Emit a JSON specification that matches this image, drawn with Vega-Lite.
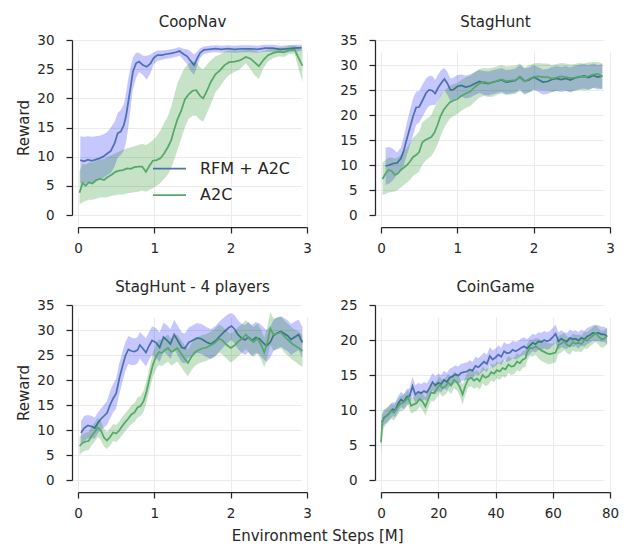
{
  "$schema": "https://vega.github.io/schema/vega-lite/v6.json",
  "background": "white",
  "padding": {"left": 16, "top": 15, "right": 5, "bottom": 2},
  "title": {"text": "Environment Steps [M]", "orient": "bottom", "anchor": "middle", "offset": 9, "fontSize": 15, "fontWeight": "normal", "color": "#262626"},
  "config": {
    "font": "DejaVu Sans",
    "view": {"stroke": null},
    "axis": {"grid": true, "gridColor": "#ebebeb", "gridWidth": 1, "domainColor": "#262626", "domainWidth": 1.25, "tickColor": "#262626", "tickWidth": 1.25, "tickSize": 6, "labelFontSize": 13.5, "labelColor": "#262626", "labelPadding": 8, "labelFlush": false, "labelOverlap": false, "titleFontSize": 15, "titleFontWeight": "normal", "titleColor": "#262626", "titlePadding": 5},
    "axisX": {"offset": 12, "labelAngle": 0},
    "axisY": {"offset": 6, "labelPadding": 12},
    "title": {"fontSize": 15, "fontWeight": "normal", "color": "#262626", "offset": 3}
  },
  "resolve": {"legend": {"color": "independent"}, "scale": {"color": "independent"}},
  "columns": 2,
  "spacing": {"row": 25, "column": 27},
  "datasets": {
    "coopnav": [
      {"method": "RFM + A2C", "step": 0.03, "reward": 9.4, "lo": 5.5, "hi": 13.5},
      {"method": "RFM + A2C", "step": 0.08, "reward": 9.2, "lo": 5.3, "hi": 13.4},
      {"method": "RFM + A2C", "step": 0.13, "reward": 9.5, "lo": 5.6, "hi": 13.5},
      {"method": "RFM + A2C", "step": 0.18, "reward": 9.3, "lo": 5.5, "hi": 13.4},
      {"method": "RFM + A2C", "step": 0.23, "reward": 9.5, "lo": 5.8, "hi": 13.5},
      {"method": "RFM + A2C", "step": 0.28, "reward": 9.7, "lo": 6.0, "hi": 13.6},
      {"method": "RFM + A2C", "step": 0.33, "reward": 10.0, "lo": 6.3, "hi": 13.8},
      {"method": "RFM + A2C", "step": 0.38, "reward": 10.5, "lo": 6.8, "hi": 14.2},
      {"method": "RFM + A2C", "step": 0.43, "reward": 11.0, "lo": 7.2, "hi": 15.0},
      {"method": "RFM + A2C", "step": 0.48, "reward": 12.3, "lo": 8.3, "hi": 16.0},
      {"method": "RFM + A2C", "step": 0.52, "reward": 14.0, "lo": 9.8, "hi": 17.5},
      {"method": "RFM + A2C", "step": 0.56, "reward": 14.3, "lo": 10.3, "hi": 18.0},
      {"method": "RFM + A2C", "step": 0.60, "reward": 15.4, "lo": 11.0, "hi": 19.0},
      {"method": "RFM + A2C", "step": 0.63, "reward": 17.0, "lo": 12.5, "hi": 21.0},
      {"method": "RFM + A2C", "step": 0.66, "reward": 19.5, "lo": 15.0, "hi": 23.5},
      {"method": "RFM + A2C", "step": 0.69, "reward": 22.0, "lo": 18.5, "hi": 25.5},
      {"method": "RFM + A2C", "step": 0.72, "reward": 24.6, "lo": 21.5, "hi": 27.0},
      {"method": "RFM + A2C", "step": 0.76, "reward": 26.0, "lo": 23.5, "hi": 27.8},
      {"method": "RFM + A2C", "step": 0.80, "reward": 26.3, "lo": 24.5, "hi": 27.8},
      {"method": "RFM + A2C", "step": 0.85, "reward": 25.7, "lo": 24.0, "hi": 27.3},
      {"method": "RFM + A2C", "step": 0.90, "reward": 25.4, "lo": 23.2, "hi": 27.3},
      {"method": "RFM + A2C", "step": 0.95, "reward": 26.0, "lo": 24.3, "hi": 27.5},
      {"method": "RFM + A2C", "step": 0.99, "reward": 26.9, "lo": 25.8, "hi": 27.9},
      {"method": "RFM + A2C", "step": 1.04, "reward": 27.4, "lo": 26.4, "hi": 28.2},
      {"method": "RFM + A2C", "step": 1.10, "reward": 27.4, "lo": 26.6, "hi": 28.2},
      {"method": "RFM + A2C", "step": 1.16, "reward": 27.6, "lo": 26.8, "hi": 28.3},
      {"method": "RFM + A2C", "step": 1.22, "reward": 27.7, "lo": 26.9, "hi": 28.4},
      {"method": "RFM + A2C", "step": 1.28, "reward": 27.9, "lo": 27.1, "hi": 28.6},
      {"method": "RFM + A2C", "step": 1.33, "reward": 28.1, "lo": 27.3, "hi": 28.8},
      {"method": "RFM + A2C", "step": 1.38, "reward": 27.6, "lo": 26.6, "hi": 28.5},
      {"method": "RFM + A2C", "step": 1.43, "reward": 27.2, "lo": 25.9, "hi": 28.4},
      {"method": "RFM + A2C", "step": 1.47, "reward": 26.5, "lo": 24.8, "hi": 28.1},
      {"method": "RFM + A2C", "step": 1.52, "reward": 25.7, "lo": 24.0, "hi": 27.5},
      {"method": "RFM + A2C", "step": 1.56, "reward": 26.8, "lo": 25.5, "hi": 28.0},
      {"method": "RFM + A2C", "step": 1.60, "reward": 27.8, "lo": 26.9, "hi": 28.6},
      {"method": "RFM + A2C", "step": 1.65, "reward": 28.3, "lo": 27.6, "hi": 28.9},
      {"method": "RFM + A2C", "step": 1.72, "reward": 28.4, "lo": 27.8, "hi": 29.0},
      {"method": "RFM + A2C", "step": 1.80, "reward": 28.5, "lo": 27.9, "hi": 29.1},
      {"method": "RFM + A2C", "step": 1.88, "reward": 28.4, "lo": 27.8, "hi": 29.0},
      {"method": "RFM + A2C", "step": 1.96, "reward": 28.5, "lo": 27.9, "hi": 29.1},
      {"method": "RFM + A2C", "step": 2.05, "reward": 28.4, "lo": 27.8, "hi": 29.0},
      {"method": "RFM + A2C", "step": 2.15, "reward": 28.5, "lo": 27.9, "hi": 29.1},
      {"method": "RFM + A2C", "step": 2.25, "reward": 28.5, "lo": 27.9, "hi": 29.1},
      {"method": "RFM + A2C", "step": 2.35, "reward": 28.4, "lo": 27.8, "hi": 29.0},
      {"method": "RFM + A2C", "step": 2.45, "reward": 28.6, "lo": 28.0, "hi": 29.2},
      {"method": "RFM + A2C", "step": 2.55, "reward": 28.6, "lo": 28.0, "hi": 29.2},
      {"method": "RFM + A2C", "step": 2.65, "reward": 28.4, "lo": 27.8, "hi": 29.0},
      {"method": "RFM + A2C", "step": 2.75, "reward": 28.5, "lo": 27.9, "hi": 29.1},
      {"method": "RFM + A2C", "step": 2.83, "reward": 28.6, "lo": 28.0, "hi": 29.2},
      {"method": "RFM + A2C", "step": 2.93, "reward": 28.7, "lo": 28.1, "hi": 29.2},
      {"method": "A2C", "step": 0.02, "reward": 3.8, "lo": 1.8, "hi": 7.5},
      {"method": "A2C", "step": 0.06, "reward": 5.5, "lo": 2.2, "hi": 8.8},
      {"method": "A2C", "step": 0.10, "reward": 5.0, "lo": 2.4, "hi": 8.6},
      {"method": "A2C", "step": 0.14, "reward": 5.6, "lo": 2.6, "hi": 9.0},
      {"method": "A2C", "step": 0.19, "reward": 5.4, "lo": 2.6, "hi": 9.0},
      {"method": "A2C", "step": 0.24, "reward": 6.0, "lo": 2.8, "hi": 9.3},
      {"method": "A2C", "step": 0.29, "reward": 6.2, "lo": 3.0, "hi": 9.5},
      {"method": "A2C", "step": 0.34, "reward": 6.0, "lo": 3.0, "hi": 9.6},
      {"method": "A2C", "step": 0.39, "reward": 6.5, "lo": 3.1, "hi": 10.0},
      {"method": "A2C", "step": 0.44, "reward": 6.9, "lo": 3.3, "hi": 10.3},
      {"method": "A2C", "step": 0.49, "reward": 7.4, "lo": 3.4, "hi": 10.6},
      {"method": "A2C", "step": 0.54, "reward": 7.6, "lo": 3.5, "hi": 10.9},
      {"method": "A2C", "step": 0.59, "reward": 7.7, "lo": 3.5, "hi": 11.2},
      {"method": "A2C", "step": 0.64, "reward": 8.0, "lo": 3.7, "hi": 11.4},
      {"method": "A2C", "step": 0.69, "reward": 7.9, "lo": 3.8, "hi": 11.6},
      {"method": "A2C", "step": 0.74, "reward": 8.2, "lo": 3.9, "hi": 11.8},
      {"method": "A2C", "step": 0.79, "reward": 8.3, "lo": 4.0, "hi": 12.0},
      {"method": "A2C", "step": 0.84, "reward": 8.3, "lo": 4.2, "hi": 12.2},
      {"method": "A2C", "step": 0.89, "reward": 7.4, "lo": 4.0, "hi": 12.0},
      {"method": "A2C", "step": 0.93, "reward": 8.3, "lo": 4.3, "hi": 12.3},
      {"method": "A2C", "step": 0.98, "reward": 9.3, "lo": 4.6, "hi": 12.8},
      {"method": "A2C", "step": 1.03, "reward": 9.4, "lo": 5.0, "hi": 13.5},
      {"method": "A2C", "step": 1.08, "reward": 9.7, "lo": 5.5, "hi": 14.5},
      {"method": "A2C", "step": 1.13, "reward": 10.6, "lo": 6.2, "hi": 15.8},
      {"method": "A2C", "step": 1.18, "reward": 11.7, "lo": 7.0, "hi": 17.0},
      {"method": "A2C", "step": 1.22, "reward": 12.8, "lo": 8.0, "hi": 18.5},
      {"method": "A2C", "step": 1.26, "reward": 14.6, "lo": 9.5, "hi": 20.5},
      {"method": "A2C", "step": 1.30, "reward": 16.3, "lo": 11.0, "hi": 22.5},
      {"method": "A2C", "step": 1.35, "reward": 17.8, "lo": 13.0, "hi": 24.0},
      {"method": "A2C", "step": 1.40, "reward": 19.8, "lo": 15.0, "hi": 25.3},
      {"method": "A2C", "step": 1.45, "reward": 20.7, "lo": 16.5, "hi": 26.0},
      {"method": "A2C", "step": 1.50, "reward": 21.3, "lo": 17.0, "hi": 26.3},
      {"method": "A2C", "step": 1.55, "reward": 21.4, "lo": 17.0, "hi": 26.2},
      {"method": "A2C", "step": 1.60, "reward": 20.4, "lo": 16.3, "hi": 25.3},
      {"method": "A2C", "step": 1.64, "reward": 20.0, "lo": 16.0, "hi": 25.0},
      {"method": "A2C", "step": 1.69, "reward": 21.3, "lo": 17.5, "hi": 25.8},
      {"method": "A2C", "step": 1.74, "reward": 22.8, "lo": 19.0, "hi": 26.5},
      {"method": "A2C", "step": 1.80, "reward": 24.1, "lo": 21.0, "hi": 27.2},
      {"method": "A2C", "step": 1.86, "reward": 24.8, "lo": 22.0, "hi": 27.5},
      {"method": "A2C", "step": 1.92, "reward": 25.7, "lo": 23.2, "hi": 28.0},
      {"method": "A2C", "step": 1.98, "reward": 26.2, "lo": 24.0, "hi": 28.2},
      {"method": "A2C", "step": 2.05, "reward": 26.3, "lo": 24.5, "hi": 28.2},
      {"method": "A2C", "step": 2.12, "reward": 26.5, "lo": 25.0, "hi": 28.2},
      {"method": "A2C", "step": 2.20, "reward": 27.1, "lo": 26.0, "hi": 28.3},
      {"method": "A2C", "step": 2.26, "reward": 26.8, "lo": 25.0, "hi": 28.4},
      {"method": "A2C", "step": 2.31, "reward": 26.2, "lo": 24.0, "hi": 28.2},
      {"method": "A2C", "step": 2.37, "reward": 25.5, "lo": 23.3, "hi": 27.9},
      {"method": "A2C", "step": 2.43, "reward": 26.6, "lo": 25.2, "hi": 28.1},
      {"method": "A2C", "step": 2.49, "reward": 27.4, "lo": 26.3, "hi": 28.4},
      {"method": "A2C", "step": 2.56, "reward": 27.8, "lo": 26.9, "hi": 28.6},
      {"method": "A2C", "step": 2.63, "reward": 28.0, "lo": 27.2, "hi": 28.7},
      {"method": "A2C", "step": 2.70, "reward": 27.9, "lo": 27.1, "hi": 28.7},
      {"method": "A2C", "step": 2.77, "reward": 28.3, "lo": 27.6, "hi": 29.0},
      {"method": "A2C", "step": 2.84, "reward": 28.3, "lo": 27.6, "hi": 29.0},
      {"method": "A2C", "step": 2.89, "reward": 26.9, "lo": 25.0, "hi": 28.7},
      {"method": "A2C", "step": 2.94, "reward": 25.6, "lo": 22.8, "hi": 28.5}
    ],
    "staghunt": [
      {"method": "RFM + A2C", "step": 0.06, "reward": 9.8, "lo": 6.0, "hi": 13.5},
      {"method": "RFM + A2C", "step": 0.11, "reward": 10.0, "lo": 6.3, "hi": 13.6},
      {"method": "RFM + A2C", "step": 0.16, "reward": 10.3, "lo": 7.0, "hi": 13.2},
      {"method": "RFM + A2C", "step": 0.21, "reward": 10.4, "lo": 8.0, "hi": 12.5},
      {"method": "RFM + A2C", "step": 0.26, "reward": 11.3, "lo": 9.0, "hi": 13.5},
      {"method": "RFM + A2C", "step": 0.30, "reward": 13.0, "lo": 10.0, "hi": 15.8},
      {"method": "RFM + A2C", "step": 0.34, "reward": 15.3, "lo": 12.0, "hi": 18.5},
      {"method": "RFM + A2C", "step": 0.38, "reward": 17.5, "lo": 14.0, "hi": 21.0},
      {"method": "RFM + A2C", "step": 0.42, "reward": 19.7, "lo": 16.0, "hi": 23.3},
      {"method": "RFM + A2C", "step": 0.46, "reward": 21.5, "lo": 18.0, "hi": 24.7},
      {"method": "RFM + A2C", "step": 0.50, "reward": 21.6, "lo": 18.5, "hi": 24.8},
      {"method": "RFM + A2C", "step": 0.54, "reward": 22.8, "lo": 19.5, "hi": 26.0},
      {"method": "RFM + A2C", "step": 0.59, "reward": 24.4, "lo": 21.0, "hi": 27.3},
      {"method": "RFM + A2C", "step": 0.63, "reward": 25.0, "lo": 21.8, "hi": 27.8},
      {"method": "RFM + A2C", "step": 0.67, "reward": 24.9, "lo": 22.0, "hi": 27.8},
      {"method": "RFM + A2C", "step": 0.71, "reward": 24.3, "lo": 22.0, "hi": 27.0},
      {"method": "RFM + A2C", "step": 0.75, "reward": 25.5, "lo": 23.0, "hi": 28.2},
      {"method": "RFM + A2C", "step": 0.79, "reward": 26.4, "lo": 24.0, "hi": 29.0},
      {"method": "RFM + A2C", "step": 0.83, "reward": 27.2, "lo": 25.0, "hi": 29.4},
      {"method": "RFM + A2C", "step": 0.87, "reward": 26.3, "lo": 24.0, "hi": 28.6},
      {"method": "RFM + A2C", "step": 0.91, "reward": 25.0, "lo": 22.8, "hi": 27.3},
      {"method": "RFM + A2C", "step": 0.95, "reward": 25.1, "lo": 23.0, "hi": 27.5},
      {"method": "RFM + A2C", "step": 1.00, "reward": 25.7, "lo": 23.5, "hi": 28.0},
      {"method": "RFM + A2C", "step": 1.05, "reward": 25.9, "lo": 23.7, "hi": 28.1},
      {"method": "RFM + A2C", "step": 1.11, "reward": 25.6, "lo": 23.3, "hi": 27.9},
      {"method": "RFM + A2C", "step": 1.17, "reward": 25.8, "lo": 23.5, "hi": 28.1},
      {"method": "RFM + A2C", "step": 1.23, "reward": 26.3, "lo": 24.0, "hi": 28.6},
      {"method": "RFM + A2C", "step": 1.29, "reward": 26.7, "lo": 24.4, "hi": 29.0},
      {"method": "RFM + A2C", "step": 1.35, "reward": 26.4, "lo": 24.0, "hi": 28.8},
      {"method": "RFM + A2C", "step": 1.41, "reward": 26.3, "lo": 23.9, "hi": 28.7},
      {"method": "RFM + A2C", "step": 1.47, "reward": 26.6, "lo": 24.2, "hi": 29.0},
      {"method": "RFM + A2C", "step": 1.53, "reward": 26.8, "lo": 24.4, "hi": 29.2},
      {"method": "RFM + A2C", "step": 1.58, "reward": 27.0, "lo": 24.6, "hi": 29.4},
      {"method": "RFM + A2C", "step": 1.64, "reward": 26.6, "lo": 24.2, "hi": 29.0},
      {"method": "RFM + A2C", "step": 1.70, "reward": 26.7, "lo": 24.3, "hi": 29.1},
      {"method": "RFM + A2C", "step": 1.76, "reward": 26.9, "lo": 24.5, "hi": 29.3},
      {"method": "RFM + A2C", "step": 1.82, "reward": 27.6, "lo": 25.1, "hi": 30.0},
      {"method": "RFM + A2C", "step": 1.88, "reward": 26.8, "lo": 24.3, "hi": 29.3},
      {"method": "RFM + A2C", "step": 1.94, "reward": 27.0, "lo": 24.5, "hi": 29.5},
      {"method": "RFM + A2C", "step": 2.00, "reward": 27.6, "lo": 25.1, "hi": 30.0},
      {"method": "RFM + A2C", "step": 2.06, "reward": 27.1, "lo": 24.6, "hi": 29.6},
      {"method": "RFM + A2C", "step": 2.12, "reward": 26.6, "lo": 24.1, "hi": 29.1},
      {"method": "RFM + A2C", "step": 2.18, "reward": 26.7, "lo": 24.2, "hi": 29.2},
      {"method": "RFM + A2C", "step": 2.24, "reward": 27.1, "lo": 24.6, "hi": 29.6},
      {"method": "RFM + A2C", "step": 2.30, "reward": 27.3, "lo": 24.8, "hi": 29.8},
      {"method": "RFM + A2C", "step": 2.36, "reward": 27.1, "lo": 24.6, "hi": 29.6},
      {"method": "RFM + A2C", "step": 2.42, "reward": 27.3, "lo": 24.8, "hi": 29.8},
      {"method": "RFM + A2C", "step": 2.48, "reward": 27.0, "lo": 24.5, "hi": 29.5},
      {"method": "RFM + A2C", "step": 2.54, "reward": 27.4, "lo": 24.9, "hi": 29.9},
      {"method": "RFM + A2C", "step": 2.60, "reward": 27.6, "lo": 25.1, "hi": 30.1},
      {"method": "RFM + A2C", "step": 2.66, "reward": 27.8, "lo": 25.3, "hi": 30.2},
      {"method": "RFM + A2C", "step": 2.72, "reward": 27.5, "lo": 25.0, "hi": 30.0},
      {"method": "RFM + A2C", "step": 2.78, "reward": 27.9, "lo": 25.4, "hi": 30.3},
      {"method": "RFM + A2C", "step": 2.84, "reward": 27.6, "lo": 25.1, "hi": 30.0},
      {"method": "RFM + A2C", "step": 2.90, "reward": 27.8, "lo": 25.3, "hi": 30.2},
      {"method": "A2C", "step": 0.02, "reward": 7.2, "lo": 4.0, "hi": 10.5},
      {"method": "A2C", "step": 0.06, "reward": 8.3, "lo": 4.2, "hi": 11.0},
      {"method": "A2C", "step": 0.10, "reward": 9.0, "lo": 4.5, "hi": 11.5},
      {"method": "A2C", "step": 0.14, "reward": 8.8, "lo": 4.6, "hi": 11.5},
      {"method": "A2C", "step": 0.18, "reward": 8.0, "lo": 4.7, "hi": 11.3},
      {"method": "A2C", "step": 0.22, "reward": 8.3, "lo": 5.0, "hi": 11.5},
      {"method": "A2C", "step": 0.26, "reward": 9.0, "lo": 5.5, "hi": 12.0},
      {"method": "A2C", "step": 0.30, "reward": 9.5, "lo": 6.0, "hi": 12.8},
      {"method": "A2C", "step": 0.34, "reward": 10.0, "lo": 6.5, "hi": 13.5},
      {"method": "A2C", "step": 0.38, "reward": 10.7, "lo": 7.0, "hi": 14.5},
      {"method": "A2C", "step": 0.42, "reward": 11.6, "lo": 7.8, "hi": 15.5},
      {"method": "A2C", "step": 0.46, "reward": 12.0, "lo": 8.2, "hi": 16.0},
      {"method": "A2C", "step": 0.50, "reward": 12.6, "lo": 8.7, "hi": 16.7},
      {"method": "A2C", "step": 0.54, "reward": 14.5, "lo": 10.0, "hi": 18.5},
      {"method": "A2C", "step": 0.58, "reward": 15.0, "lo": 10.8, "hi": 19.0},
      {"method": "A2C", "step": 0.62, "reward": 15.3, "lo": 11.3, "hi": 19.5},
      {"method": "A2C", "step": 0.66, "reward": 15.6, "lo": 11.8, "hi": 20.0},
      {"method": "A2C", "step": 0.70, "reward": 16.5, "lo": 12.8, "hi": 21.5},
      {"method": "A2C", "step": 0.74, "reward": 18.0, "lo": 14.0, "hi": 22.7},
      {"method": "A2C", "step": 0.78, "reward": 19.8, "lo": 15.7, "hi": 24.0},
      {"method": "A2C", "step": 0.82, "reward": 21.0, "lo": 17.2, "hi": 24.8},
      {"method": "A2C", "step": 0.86, "reward": 21.8, "lo": 18.3, "hi": 25.3},
      {"method": "A2C", "step": 0.90, "reward": 22.5, "lo": 19.2, "hi": 25.8},
      {"method": "A2C", "step": 0.95, "reward": 22.9, "lo": 19.8, "hi": 26.2},
      {"method": "A2C", "step": 1.00, "reward": 23.2, "lo": 20.2, "hi": 26.4},
      {"method": "A2C", "step": 1.05, "reward": 23.8, "lo": 20.8, "hi": 27.0},
      {"method": "A2C", "step": 1.11, "reward": 24.3, "lo": 21.4, "hi": 27.5},
      {"method": "A2C", "step": 1.17, "reward": 24.7, "lo": 21.8, "hi": 27.9},
      {"method": "A2C", "step": 1.23, "reward": 25.6, "lo": 22.7, "hi": 28.6},
      {"method": "A2C", "step": 1.29, "reward": 26.3, "lo": 23.5, "hi": 29.2},
      {"method": "A2C", "step": 1.35, "reward": 26.6, "lo": 23.8, "hi": 29.4},
      {"method": "A2C", "step": 1.41, "reward": 26.4, "lo": 23.6, "hi": 29.3},
      {"method": "A2C", "step": 1.47, "reward": 26.5, "lo": 23.7, "hi": 29.5},
      {"method": "A2C", "step": 1.53, "reward": 26.9, "lo": 24.1, "hi": 29.8},
      {"method": "A2C", "step": 1.58, "reward": 27.1, "lo": 24.3, "hi": 30.0},
      {"method": "A2C", "step": 1.64, "reward": 26.8, "lo": 24.0, "hi": 29.7},
      {"method": "A2C", "step": 1.70, "reward": 26.9, "lo": 24.1, "hi": 29.8},
      {"method": "A2C", "step": 1.76, "reward": 27.0, "lo": 24.2, "hi": 29.9},
      {"method": "A2C", "step": 1.82, "reward": 27.5, "lo": 24.8, "hi": 30.3},
      {"method": "A2C", "step": 1.88, "reward": 26.7, "lo": 24.0, "hi": 29.5},
      {"method": "A2C", "step": 1.94, "reward": 27.2, "lo": 24.5, "hi": 30.0},
      {"method": "A2C", "step": 2.00, "reward": 27.6, "lo": 24.9, "hi": 30.3},
      {"method": "A2C", "step": 2.06, "reward": 27.7, "lo": 25.0, "hi": 30.4},
      {"method": "A2C", "step": 2.12, "reward": 27.6, "lo": 24.9, "hi": 30.3},
      {"method": "A2C", "step": 2.18, "reward": 27.6, "lo": 24.9, "hi": 30.3},
      {"method": "A2C", "step": 2.24, "reward": 27.3, "lo": 24.6, "hi": 30.0},
      {"method": "A2C", "step": 2.30, "reward": 27.5, "lo": 24.8, "hi": 30.2},
      {"method": "A2C", "step": 2.36, "reward": 27.7, "lo": 25.0, "hi": 30.4},
      {"method": "A2C", "step": 2.42, "reward": 27.6, "lo": 24.9, "hi": 30.3},
      {"method": "A2C", "step": 2.48, "reward": 27.4, "lo": 24.7, "hi": 30.1},
      {"method": "A2C", "step": 2.54, "reward": 27.5, "lo": 24.8, "hi": 30.2},
      {"method": "A2C", "step": 2.60, "reward": 27.7, "lo": 25.0, "hi": 30.4},
      {"method": "A2C", "step": 2.66, "reward": 27.6, "lo": 24.9, "hi": 30.3},
      {"method": "A2C", "step": 2.72, "reward": 27.8, "lo": 25.1, "hi": 30.5},
      {"method": "A2C", "step": 2.78, "reward": 28.1, "lo": 25.4, "hi": 30.6},
      {"method": "A2C", "step": 2.84, "reward": 28.2, "lo": 25.5, "hi": 30.6},
      {"method": "A2C", "step": 2.90, "reward": 27.7, "lo": 25.0, "hi": 30.3}
    ],
    "staghunt4": [
      {"method": "RFM + A2C", "step": 0.04, "reward": 9.4, "lo": 7.0, "hi": 11.8},
      {"method": "RFM + A2C", "step": 0.08, "reward": 10.4, "lo": 7.8, "hi": 12.8},
      {"method": "RFM + A2C", "step": 0.13, "reward": 10.9, "lo": 8.3, "hi": 13.0},
      {"method": "RFM + A2C", "step": 0.18, "reward": 10.7, "lo": 8.3, "hi": 12.8},
      {"method": "RFM + A2C", "step": 0.22, "reward": 10.4, "lo": 8.3, "hi": 12.5},
      {"method": "RFM + A2C", "step": 0.26, "reward": 11.4, "lo": 9.3, "hi": 13.5},
      {"method": "RFM + A2C", "step": 0.30, "reward": 12.2, "lo": 10.0, "hi": 14.3},
      {"method": "RFM + A2C", "step": 0.34, "reward": 12.8, "lo": 10.5, "hi": 15.0},
      {"method": "RFM + A2C", "step": 0.38, "reward": 13.4, "lo": 11.0, "hi": 15.8},
      {"method": "RFM + A2C", "step": 0.42, "reward": 15.0, "lo": 12.3, "hi": 17.8},
      {"method": "RFM + A2C", "step": 0.46, "reward": 16.3, "lo": 13.5, "hi": 19.2},
      {"method": "RFM + A2C", "step": 0.50, "reward": 17.3, "lo": 14.3, "hi": 20.3},
      {"method": "RFM + A2C", "step": 0.54, "reward": 20.2, "lo": 17.0, "hi": 23.3},
      {"method": "RFM + A2C", "step": 0.58, "reward": 22.6, "lo": 19.5, "hi": 25.5},
      {"method": "RFM + A2C", "step": 0.62, "reward": 24.8, "lo": 21.8, "hi": 27.6},
      {"method": "RFM + A2C", "step": 0.66, "reward": 26.1, "lo": 23.2, "hi": 28.8},
      {"method": "RFM + A2C", "step": 0.70, "reward": 25.8, "lo": 23.0, "hi": 28.5},
      {"method": "RFM + A2C", "step": 0.74, "reward": 25.7, "lo": 23.0, "hi": 28.3},
      {"method": "RFM + A2C", "step": 0.78, "reward": 26.0, "lo": 23.3, "hi": 28.6},
      {"method": "RFM + A2C", "step": 0.81, "reward": 27.0, "lo": 24.3, "hi": 29.6},
      {"method": "RFM + A2C", "step": 0.85, "reward": 26.3, "lo": 23.5, "hi": 29.0},
      {"method": "RFM + A2C", "step": 0.89, "reward": 25.5, "lo": 22.7, "hi": 28.3},
      {"method": "RFM + A2C", "step": 0.93, "reward": 26.8, "lo": 24.0, "hi": 29.6},
      {"method": "RFM + A2C", "step": 0.97, "reward": 27.9, "lo": 25.0, "hi": 30.7},
      {"method": "RFM + A2C", "step": 1.02, "reward": 27.5, "lo": 24.5, "hi": 30.4},
      {"method": "RFM + A2C", "step": 1.07, "reward": 26.5, "lo": 23.6, "hi": 29.5},
      {"method": "RFM + A2C", "step": 1.12, "reward": 28.6, "lo": 25.7, "hi": 31.5},
      {"method": "RFM + A2C", "step": 1.17, "reward": 27.9, "lo": 25.0, "hi": 30.9},
      {"method": "RFM + A2C", "step": 1.21, "reward": 27.2, "lo": 24.2, "hi": 30.2},
      {"method": "RFM + A2C", "step": 1.26, "reward": 29.1, "lo": 26.2, "hi": 32.0},
      {"method": "RFM + A2C", "step": 1.31, "reward": 27.8, "lo": 24.8, "hi": 30.8},
      {"method": "RFM + A2C", "step": 1.36, "reward": 26.5, "lo": 23.5, "hi": 29.5},
      {"method": "RFM + A2C", "step": 1.40, "reward": 26.3, "lo": 23.3, "hi": 29.3},
      {"method": "RFM + A2C", "step": 1.45, "reward": 27.5, "lo": 24.5, "hi": 30.5},
      {"method": "RFM + A2C", "step": 1.50, "reward": 27.9, "lo": 24.9, "hi": 30.9},
      {"method": "RFM + A2C", "step": 1.56, "reward": 28.4, "lo": 25.4, "hi": 31.4},
      {"method": "RFM + A2C", "step": 1.62, "reward": 28.2, "lo": 25.2, "hi": 31.2},
      {"method": "RFM + A2C", "step": 1.68, "reward": 27.6, "lo": 24.6, "hi": 30.6},
      {"method": "RFM + A2C", "step": 1.74, "reward": 27.2, "lo": 24.2, "hi": 30.2},
      {"method": "RFM + A2C", "step": 1.80, "reward": 27.8, "lo": 24.8, "hi": 30.8},
      {"method": "RFM + A2C", "step": 1.86, "reward": 28.8, "lo": 25.8, "hi": 31.8},
      {"method": "RFM + A2C", "step": 1.92, "reward": 29.7, "lo": 26.8, "hi": 32.6},
      {"method": "RFM + A2C", "step": 1.97, "reward": 30.4, "lo": 27.5, "hi": 33.2},
      {"method": "RFM + A2C", "step": 2.01, "reward": 30.8, "lo": 28.0, "hi": 33.4},
      {"method": "RFM + A2C", "step": 2.05, "reward": 30.2, "lo": 27.3, "hi": 33.0},
      {"method": "RFM + A2C", "step": 2.09, "reward": 29.2, "lo": 26.3, "hi": 32.1},
      {"method": "RFM + A2C", "step": 2.14, "reward": 28.4, "lo": 25.5, "hi": 31.3},
      {"method": "RFM + A2C", "step": 2.19, "reward": 28.0, "lo": 25.0, "hi": 31.0},
      {"method": "RFM + A2C", "step": 2.23, "reward": 28.6, "lo": 25.6, "hi": 31.6},
      {"method": "RFM + A2C", "step": 2.28, "reward": 27.9, "lo": 24.8, "hi": 31.0},
      {"method": "RFM + A2C", "step": 2.33, "reward": 28.5, "lo": 25.4, "hi": 31.6},
      {"method": "RFM + A2C", "step": 2.38, "reward": 28.2, "lo": 25.1, "hi": 31.3},
      {"method": "RFM + A2C", "step": 2.42, "reward": 27.5, "lo": 24.3, "hi": 30.7},
      {"method": "RFM + A2C", "step": 2.47, "reward": 26.8, "lo": 23.6, "hi": 30.0},
      {"method": "RFM + A2C", "step": 2.52, "reward": 27.6, "lo": 24.5, "hi": 30.7},
      {"method": "RFM + A2C", "step": 2.56, "reward": 28.9, "lo": 25.8, "hi": 32.0},
      {"method": "RFM + A2C", "step": 2.61, "reward": 29.4, "lo": 26.3, "hi": 32.5},
      {"method": "RFM + A2C", "step": 2.66, "reward": 29.7, "lo": 26.6, "hi": 32.7},
      {"method": "RFM + A2C", "step": 2.71, "reward": 29.2, "lo": 26.1, "hi": 32.3},
      {"method": "RFM + A2C", "step": 2.75, "reward": 28.8, "lo": 25.7, "hi": 31.9},
      {"method": "RFM + A2C", "step": 2.79, "reward": 28.1, "lo": 25.0, "hi": 31.2},
      {"method": "RFM + A2C", "step": 2.84, "reward": 28.6, "lo": 25.5, "hi": 31.7},
      {"method": "RFM + A2C", "step": 2.89, "reward": 29.1, "lo": 26.0, "hi": 32.1},
      {"method": "RFM + A2C", "step": 2.94, "reward": 27.5, "lo": 24.4, "hi": 30.6},
      {"method": "A2C", "step": 0.02, "reward": 6.8, "lo": 5.0, "hi": 8.6},
      {"method": "A2C", "step": 0.06, "reward": 7.4, "lo": 5.6, "hi": 9.2},
      {"method": "A2C", "step": 0.10, "reward": 7.7, "lo": 5.9, "hi": 9.5},
      {"method": "A2C", "step": 0.14, "reward": 7.8, "lo": 6.0, "hi": 9.6},
      {"method": "A2C", "step": 0.18, "reward": 8.9, "lo": 7.0, "hi": 10.8},
      {"method": "A2C", "step": 0.22, "reward": 9.6, "lo": 7.7, "hi": 11.5},
      {"method": "A2C", "step": 0.26, "reward": 10.5, "lo": 8.6, "hi": 12.4},
      {"method": "A2C", "step": 0.30, "reward": 9.9, "lo": 8.0, "hi": 11.8},
      {"method": "A2C", "step": 0.34, "reward": 8.5, "lo": 6.7, "hi": 10.3},
      {"method": "A2C", "step": 0.38, "reward": 7.9, "lo": 6.2, "hi": 9.6},
      {"method": "A2C", "step": 0.42, "reward": 8.6, "lo": 6.9, "hi": 10.3},
      {"method": "A2C", "step": 0.46, "reward": 9.5, "lo": 7.8, "hi": 11.2},
      {"method": "A2C", "step": 0.50, "reward": 9.3, "lo": 7.6, "hi": 11.0},
      {"method": "A2C", "step": 0.54, "reward": 9.9, "lo": 8.2, "hi": 11.7},
      {"method": "A2C", "step": 0.58, "reward": 10.8, "lo": 9.0, "hi": 12.6},
      {"method": "A2C", "step": 0.62, "reward": 11.6, "lo": 9.8, "hi": 13.4},
      {"method": "A2C", "step": 0.66, "reward": 12.3, "lo": 10.5, "hi": 14.1},
      {"method": "A2C", "step": 0.70, "reward": 13.1, "lo": 11.2, "hi": 15.0},
      {"method": "A2C", "step": 0.74, "reward": 13.5, "lo": 11.6, "hi": 15.4},
      {"method": "A2C", "step": 0.78, "reward": 14.5, "lo": 12.5, "hi": 16.5},
      {"method": "A2C", "step": 0.82, "reward": 14.8, "lo": 12.8, "hi": 16.8},
      {"method": "A2C", "step": 0.86, "reward": 15.8, "lo": 13.7, "hi": 17.9},
      {"method": "A2C", "step": 0.90, "reward": 17.8, "lo": 15.6, "hi": 20.0},
      {"method": "A2C", "step": 0.94, "reward": 20.5, "lo": 18.2, "hi": 22.8},
      {"method": "A2C", "step": 0.98, "reward": 23.0, "lo": 20.6, "hi": 25.4},
      {"method": "A2C", "step": 1.02, "reward": 24.6, "lo": 22.1, "hi": 27.1},
      {"method": "A2C", "step": 1.06, "reward": 25.6, "lo": 23.0, "hi": 28.2},
      {"method": "A2C", "step": 1.10, "reward": 25.4, "lo": 22.8, "hi": 28.0},
      {"method": "A2C", "step": 1.14, "reward": 26.0, "lo": 23.3, "hi": 28.7},
      {"method": "A2C", "step": 1.18, "reward": 26.4, "lo": 23.7, "hi": 29.1},
      {"method": "A2C", "step": 1.22, "reward": 25.6, "lo": 22.9, "hi": 28.3},
      {"method": "A2C", "step": 1.26, "reward": 25.9, "lo": 23.2, "hi": 28.6},
      {"method": "A2C", "step": 1.30, "reward": 26.4, "lo": 23.7, "hi": 29.1},
      {"method": "A2C", "step": 1.35, "reward": 25.3, "lo": 22.6, "hi": 28.0},
      {"method": "A2C", "step": 1.40, "reward": 24.2, "lo": 21.5, "hi": 26.9},
      {"method": "A2C", "step": 1.44, "reward": 23.4, "lo": 20.7, "hi": 26.1},
      {"method": "A2C", "step": 1.48, "reward": 24.5, "lo": 21.8, "hi": 27.2},
      {"method": "A2C", "step": 1.53, "reward": 25.5, "lo": 22.8, "hi": 28.2},
      {"method": "A2C", "step": 1.58, "reward": 26.0, "lo": 23.3, "hi": 28.7},
      {"method": "A2C", "step": 1.63, "reward": 26.3, "lo": 23.6, "hi": 29.0},
      {"method": "A2C", "step": 1.68, "reward": 26.5, "lo": 23.8, "hi": 29.2},
      {"method": "A2C", "step": 1.73, "reward": 26.9, "lo": 24.2, "hi": 29.6},
      {"method": "A2C", "step": 1.79, "reward": 27.4, "lo": 24.6, "hi": 30.2},
      {"method": "A2C", "step": 1.85, "reward": 28.3, "lo": 25.5, "hi": 31.1},
      {"method": "A2C", "step": 1.90, "reward": 27.8, "lo": 25.0, "hi": 30.6},
      {"method": "A2C", "step": 1.95, "reward": 27.0, "lo": 24.2, "hi": 29.8},
      {"method": "A2C", "step": 2.00, "reward": 26.4, "lo": 23.5, "hi": 29.3},
      {"method": "A2C", "step": 2.05, "reward": 26.9, "lo": 24.0, "hi": 29.8},
      {"method": "A2C", "step": 2.10, "reward": 27.7, "lo": 24.8, "hi": 30.6},
      {"method": "A2C", "step": 2.15, "reward": 28.3, "lo": 25.4, "hi": 31.2},
      {"method": "A2C", "step": 2.20, "reward": 29.1, "lo": 26.2, "hi": 32.0},
      {"method": "A2C", "step": 2.25, "reward": 28.2, "lo": 25.2, "hi": 31.2},
      {"method": "A2C", "step": 2.30, "reward": 27.6, "lo": 24.6, "hi": 30.6},
      {"method": "A2C", "step": 2.35, "reward": 28.3, "lo": 25.3, "hi": 31.3},
      {"method": "A2C", "step": 2.40, "reward": 27.0, "lo": 24.0, "hi": 30.0},
      {"method": "A2C", "step": 2.44, "reward": 25.5, "lo": 22.5, "hi": 28.5},
      {"method": "A2C", "step": 2.48, "reward": 27.5, "lo": 24.4, "hi": 30.6},
      {"method": "A2C", "step": 2.52, "reward": 30.3, "lo": 27.0, "hi": 33.6},
      {"method": "A2C", "step": 2.56, "reward": 29.1, "lo": 25.9, "hi": 32.3},
      {"method": "A2C", "step": 2.61, "reward": 29.3, "lo": 26.1, "hi": 32.5},
      {"method": "A2C", "step": 2.66, "reward": 29.5, "lo": 26.3, "hi": 32.7},
      {"method": "A2C", "step": 2.71, "reward": 28.6, "lo": 25.4, "hi": 31.8},
      {"method": "A2C", "step": 2.76, "reward": 27.9, "lo": 24.7, "hi": 31.1},
      {"method": "A2C", "step": 2.81, "reward": 27.2, "lo": 24.0, "hi": 30.4},
      {"method": "A2C", "step": 2.86, "reward": 26.7, "lo": 23.5, "hi": 29.9},
      {"method": "A2C", "step": 2.90, "reward": 26.3, "lo": 23.0, "hi": 29.6},
      {"method": "A2C", "step": 2.94, "reward": 25.8, "lo": 22.6, "hi": 29.0}
    ],
    "coingame": [
      {"method": "RFM + A2C", "step": 0.3, "reward": 8.2, "lo": 7.2, "hi": 9.3},
      {"method": "RFM + A2C", "step": 1, "reward": 8.9, "lo": 7.9, "hi": 9.9},
      {"method": "RFM + A2C", "step": 2, "reward": 9.2, "lo": 8.2, "hi": 10.2},
      {"method": "RFM + A2C", "step": 3, "reward": 9.6, "lo": 8.6, "hi": 10.6},
      {"method": "RFM + A2C", "step": 4, "reward": 10.1, "lo": 9.1, "hi": 11.1},
      {"method": "RFM + A2C", "step": 5, "reward": 10.0, "lo": 9.0, "hi": 11.1},
      {"method": "RFM + A2C", "step": 6, "reward": 10.9, "lo": 9.8, "hi": 12.0},
      {"method": "RFM + A2C", "step": 7, "reward": 11.5, "lo": 10.4, "hi": 12.6},
      {"method": "RFM + A2C", "step": 8, "reward": 11.2, "lo": 10.1, "hi": 12.3},
      {"method": "RFM + A2C", "step": 9, "reward": 11.9, "lo": 10.8, "hi": 13.0},
      {"method": "RFM + A2C", "step": 10, "reward": 12.0, "lo": 10.9, "hi": 13.1},
      {"method": "RFM + A2C", "step": 11, "reward": 13.4, "lo": 12.0, "hi": 14.8},
      {"method": "RFM + A2C", "step": 12, "reward": 12.2, "lo": 11.0, "hi": 13.5},
      {"method": "RFM + A2C", "step": 13, "reward": 12.6, "lo": 11.4, "hi": 13.9},
      {"method": "RFM + A2C", "step": 14, "reward": 12.4, "lo": 11.2, "hi": 13.7},
      {"method": "RFM + A2C", "step": 15, "reward": 12.7, "lo": 11.5, "hi": 14.0},
      {"method": "RFM + A2C", "step": 16, "reward": 12.5, "lo": 11.3, "hi": 13.8},
      {"method": "RFM + A2C", "step": 17, "reward": 13.2, "lo": 12.0, "hi": 14.5},
      {"method": "RFM + A2C", "step": 18, "reward": 14.0, "lo": 12.8, "hi": 15.3},
      {"method": "RFM + A2C", "step": 19, "reward": 13.5, "lo": 12.3, "hi": 14.8},
      {"method": "RFM + A2C", "step": 20, "reward": 13.9, "lo": 12.7, "hi": 15.2},
      {"method": "RFM + A2C", "step": 21, "reward": 13.7, "lo": 12.5, "hi": 15.0},
      {"method": "RFM + A2C", "step": 22, "reward": 14.3, "lo": 13.1, "hi": 15.6},
      {"method": "RFM + A2C", "step": 23, "reward": 14.0, "lo": 12.8, "hi": 15.3},
      {"method": "RFM + A2C", "step": 24, "reward": 14.6, "lo": 13.4, "hi": 15.9},
      {"method": "RFM + A2C", "step": 25, "reward": 14.8, "lo": 13.6, "hi": 16.1},
      {"method": "RFM + A2C", "step": 26, "reward": 15.1, "lo": 13.9, "hi": 16.4},
      {"method": "RFM + A2C", "step": 27, "reward": 14.9, "lo": 13.7, "hi": 16.2},
      {"method": "RFM + A2C", "step": 28, "reward": 15.3, "lo": 14.1, "hi": 16.6},
      {"method": "RFM + A2C", "step": 29, "reward": 15.4, "lo": 14.2, "hi": 16.7},
      {"method": "RFM + A2C", "step": 30, "reward": 15.5, "lo": 14.3, "hi": 16.8},
      {"method": "RFM + A2C", "step": 31, "reward": 15.8, "lo": 14.6, "hi": 17.1},
      {"method": "RFM + A2C", "step": 32, "reward": 15.6, "lo": 14.4, "hi": 16.9},
      {"method": "RFM + A2C", "step": 33, "reward": 16.3, "lo": 15.1, "hi": 17.6},
      {"method": "RFM + A2C", "step": 34, "reward": 16.1, "lo": 14.9, "hi": 17.4},
      {"method": "RFM + A2C", "step": 35, "reward": 16.5, "lo": 15.3, "hi": 17.8},
      {"method": "RFM + A2C", "step": 36, "reward": 16.9, "lo": 15.7, "hi": 18.2},
      {"method": "RFM + A2C", "step": 37, "reward": 16.6, "lo": 15.4, "hi": 17.9},
      {"method": "RFM + A2C", "step": 38, "reward": 17.7, "lo": 16.5, "hi": 19.0},
      {"method": "RFM + A2C", "step": 39, "reward": 17.2, "lo": 16.0, "hi": 18.5},
      {"method": "RFM + A2C", "step": 40, "reward": 17.5, "lo": 16.3, "hi": 18.8},
      {"method": "RFM + A2C", "step": 41, "reward": 17.9, "lo": 16.7, "hi": 19.2},
      {"method": "RFM + A2C", "step": 42, "reward": 17.6, "lo": 16.4, "hi": 18.9},
      {"method": "RFM + A2C", "step": 43, "reward": 18.4, "lo": 17.2, "hi": 19.7},
      {"method": "RFM + A2C", "step": 44, "reward": 18.1, "lo": 16.9, "hi": 19.4},
      {"method": "RFM + A2C", "step": 45, "reward": 18.2, "lo": 17.0, "hi": 19.5},
      {"method": "RFM + A2C", "step": 46, "reward": 18.6, "lo": 17.4, "hi": 19.9},
      {"method": "RFM + A2C", "step": 47, "reward": 18.4, "lo": 17.2, "hi": 19.7},
      {"method": "RFM + A2C", "step": 48, "reward": 18.6, "lo": 17.4, "hi": 19.9},
      {"method": "RFM + A2C", "step": 49, "reward": 18.9, "lo": 17.7, "hi": 20.2},
      {"method": "RFM + A2C", "step": 50, "reward": 19.1, "lo": 17.9, "hi": 20.4},
      {"method": "RFM + A2C", "step": 51, "reward": 18.8, "lo": 17.6, "hi": 20.1},
      {"method": "RFM + A2C", "step": 52, "reward": 19.2, "lo": 18.0, "hi": 20.5},
      {"method": "RFM + A2C", "step": 53, "reward": 19.6, "lo": 18.4, "hi": 20.9},
      {"method": "RFM + A2C", "step": 54, "reward": 19.4, "lo": 18.2, "hi": 20.7},
      {"method": "RFM + A2C", "step": 55, "reward": 19.8, "lo": 18.6, "hi": 21.1},
      {"method": "RFM + A2C", "step": 56, "reward": 19.7, "lo": 18.5, "hi": 21.0},
      {"method": "RFM + A2C", "step": 57, "reward": 20.0, "lo": 18.8, "hi": 21.3},
      {"method": "RFM + A2C", "step": 58, "reward": 19.8, "lo": 18.6, "hi": 21.1},
      {"method": "RFM + A2C", "step": 59, "reward": 20.0, "lo": 18.8, "hi": 21.3},
      {"method": "RFM + A2C", "step": 60, "reward": 20.4, "lo": 19.2, "hi": 21.7},
      {"method": "RFM + A2C", "step": 61, "reward": 20.9, "lo": 19.6, "hi": 22.2},
      {"method": "RFM + A2C", "step": 62, "reward": 19.8, "lo": 18.6, "hi": 21.1},
      {"method": "RFM + A2C", "step": 63, "reward": 20.2, "lo": 19.0, "hi": 21.4},
      {"method": "RFM + A2C", "step": 64, "reward": 19.9, "lo": 18.8, "hi": 21.1},
      {"method": "RFM + A2C", "step": 65, "reward": 19.8, "lo": 18.7, "hi": 21.0},
      {"method": "RFM + A2C", "step": 66, "reward": 20.3, "lo": 19.2, "hi": 21.5},
      {"method": "RFM + A2C", "step": 67, "reward": 20.1, "lo": 19.0, "hi": 21.3},
      {"method": "RFM + A2C", "step": 68, "reward": 20.2, "lo": 19.1, "hi": 21.4},
      {"method": "RFM + A2C", "step": 69, "reward": 19.9, "lo": 18.8, "hi": 21.1},
      {"method": "RFM + A2C", "step": 70, "reward": 20.3, "lo": 19.2, "hi": 21.5},
      {"method": "RFM + A2C", "step": 71, "reward": 20.1, "lo": 19.0, "hi": 21.3},
      {"method": "RFM + A2C", "step": 72, "reward": 20.5, "lo": 19.4, "hi": 21.7},
      {"method": "RFM + A2C", "step": 73, "reward": 20.7, "lo": 19.6, "hi": 21.9},
      {"method": "RFM + A2C", "step": 74, "reward": 21.0, "lo": 19.9, "hi": 22.1},
      {"method": "RFM + A2C", "step": 75, "reward": 20.9, "lo": 19.8, "hi": 22.1},
      {"method": "RFM + A2C", "step": 76, "reward": 21.0, "lo": 19.9, "hi": 22.1},
      {"method": "RFM + A2C", "step": 77, "reward": 20.8, "lo": 19.7, "hi": 21.9},
      {"method": "RFM + A2C", "step": 78, "reward": 20.8, "lo": 19.7, "hi": 21.9},
      {"method": "RFM + A2C", "step": 79, "reward": 20.5, "lo": 19.4, "hi": 21.6},
      {"method": "A2C", "step": 0.0, "reward": 5.4, "lo": 3.2, "hi": 7.6},
      {"method": "A2C", "step": 0.5, "reward": 8.5, "lo": 7.0, "hi": 9.9},
      {"method": "A2C", "step": 1.5, "reward": 9.0, "lo": 7.8, "hi": 10.2},
      {"method": "A2C", "step": 2.5, "reward": 9.3, "lo": 8.2, "hi": 10.5},
      {"method": "A2C", "step": 3.5, "reward": 9.9, "lo": 8.8, "hi": 11.0},
      {"method": "A2C", "step": 4.5, "reward": 9.6, "lo": 8.5, "hi": 10.7},
      {"method": "A2C", "step": 5.5, "reward": 10.2, "lo": 9.1, "hi": 11.3},
      {"method": "A2C", "step": 6.5, "reward": 10.8, "lo": 9.7, "hi": 11.9},
      {"method": "A2C", "step": 7.5, "reward": 11.0, "lo": 9.9, "hi": 12.1},
      {"method": "A2C", "step": 8.5, "reward": 11.3, "lo": 10.2, "hi": 12.4},
      {"method": "A2C", "step": 9.5, "reward": 11.8, "lo": 10.7, "hi": 12.9},
      {"method": "A2C", "step": 10.5, "reward": 10.6, "lo": 9.5, "hi": 11.7},
      {"method": "A2C", "step": 11.5, "reward": 10.8, "lo": 9.7, "hi": 11.9},
      {"method": "A2C", "step": 12.5, "reward": 11.0, "lo": 9.9, "hi": 12.1},
      {"method": "A2C", "step": 13.5, "reward": 11.6, "lo": 10.5, "hi": 12.7},
      {"method": "A2C", "step": 14.5, "reward": 11.2, "lo": 10.0, "hi": 12.4},
      {"method": "A2C", "step": 15.5, "reward": 10.5, "lo": 9.2, "hi": 11.8},
      {"method": "A2C", "step": 16.5, "reward": 11.5, "lo": 10.3, "hi": 12.7},
      {"method": "A2C", "step": 17.5, "reward": 12.5, "lo": 11.3, "hi": 13.7},
      {"method": "A2C", "step": 18.5, "reward": 12.4, "lo": 11.2, "hi": 13.6},
      {"method": "A2C", "step": 19.5, "reward": 13.0, "lo": 11.8, "hi": 14.2},
      {"method": "A2C", "step": 20.5, "reward": 13.6, "lo": 12.4, "hi": 14.8},
      {"method": "A2C", "step": 21.5, "reward": 13.1, "lo": 11.9, "hi": 14.3},
      {"method": "A2C", "step": 22.5, "reward": 13.4, "lo": 12.2, "hi": 14.6},
      {"method": "A2C", "step": 23.5, "reward": 13.9, "lo": 12.7, "hi": 15.1},
      {"method": "A2C", "step": 24.5, "reward": 13.5, "lo": 12.3, "hi": 14.7},
      {"method": "A2C", "step": 25.5, "reward": 14.3, "lo": 13.1, "hi": 15.5},
      {"method": "A2C", "step": 26.5, "reward": 14.0, "lo": 12.8, "hi": 15.2},
      {"method": "A2C", "step": 27.5, "reward": 13.3, "lo": 12.0, "hi": 14.6},
      {"method": "A2C", "step": 28.5, "reward": 12.2, "lo": 10.8, "hi": 13.6},
      {"method": "A2C", "step": 29.5, "reward": 13.5, "lo": 12.2, "hi": 14.8},
      {"method": "A2C", "step": 30.5, "reward": 14.4, "lo": 13.2, "hi": 15.6},
      {"method": "A2C", "step": 31.5, "reward": 14.6, "lo": 13.4, "hi": 15.8},
      {"method": "A2C", "step": 32.5, "reward": 14.2, "lo": 13.0, "hi": 15.4},
      {"method": "A2C", "step": 33.5, "reward": 14.5, "lo": 13.3, "hi": 15.7},
      {"method": "A2C", "step": 34.5, "reward": 14.1, "lo": 12.9, "hi": 15.3},
      {"method": "A2C", "step": 35.5, "reward": 15.0, "lo": 13.8, "hi": 16.2},
      {"method": "A2C", "step": 36.5, "reward": 14.6, "lo": 13.4, "hi": 15.8},
      {"method": "A2C", "step": 37.5, "reward": 14.8, "lo": 13.6, "hi": 16.0},
      {"method": "A2C", "step": 38.5, "reward": 15.4, "lo": 14.2, "hi": 16.6},
      {"method": "A2C", "step": 39.5, "reward": 15.2, "lo": 14.0, "hi": 16.4},
      {"method": "A2C", "step": 40.5, "reward": 15.7, "lo": 14.5, "hi": 16.9},
      {"method": "A2C", "step": 41.5, "reward": 15.5, "lo": 14.3, "hi": 16.7},
      {"method": "A2C", "step": 42.5, "reward": 16.0, "lo": 14.8, "hi": 17.2},
      {"method": "A2C", "step": 43.5, "reward": 15.8, "lo": 14.6, "hi": 17.0},
      {"method": "A2C", "step": 44.5, "reward": 16.5, "lo": 15.3, "hi": 17.7},
      {"method": "A2C", "step": 45.5, "reward": 16.2, "lo": 15.0, "hi": 17.4},
      {"method": "A2C", "step": 46.5, "reward": 16.3, "lo": 15.1, "hi": 17.5},
      {"method": "A2C", "step": 47.5, "reward": 16.9, "lo": 15.7, "hi": 18.1},
      {"method": "A2C", "step": 48.5, "reward": 16.7, "lo": 15.5, "hi": 17.9},
      {"method": "A2C", "step": 49.5, "reward": 17.2, "lo": 16.0, "hi": 18.4},
      {"method": "A2C", "step": 50.5, "reward": 17.4, "lo": 16.2, "hi": 18.6},
      {"method": "A2C", "step": 51, "reward": 18.2, "lo": 17.0, "hi": 19.4},
      {"method": "A2C", "step": 52, "reward": 18.9, "lo": 17.7, "hi": 20.1},
      {"method": "A2C", "step": 53, "reward": 18.8, "lo": 17.6, "hi": 20.0},
      {"method": "A2C", "step": 54, "reward": 19.1, "lo": 17.9, "hi": 20.3},
      {"method": "A2C", "step": 55, "reward": 18.8, "lo": 17.4, "hi": 20.2},
      {"method": "A2C", "step": 56, "reward": 18.5, "lo": 17.0, "hi": 20.0},
      {"method": "A2C", "step": 57, "reward": 18.3, "lo": 16.8, "hi": 19.8},
      {"method": "A2C", "step": 58, "reward": 18.1, "lo": 16.6, "hi": 19.6},
      {"method": "A2C", "step": 59, "reward": 18.0, "lo": 16.5, "hi": 19.5},
      {"method": "A2C", "step": 60, "reward": 18.1, "lo": 16.7, "hi": 19.5},
      {"method": "A2C", "step": 61, "reward": 18.2, "lo": 16.8, "hi": 19.6},
      {"method": "A2C", "step": 62, "reward": 19.3, "lo": 18.0, "hi": 20.6},
      {"method": "A2C", "step": 63, "reward": 19.5, "lo": 18.2, "hi": 20.8},
      {"method": "A2C", "step": 64, "reward": 19.8, "lo": 18.6, "hi": 21.0},
      {"method": "A2C", "step": 65, "reward": 19.3, "lo": 18.1, "hi": 20.5},
      {"method": "A2C", "step": 66, "reward": 19.1, "lo": 17.9, "hi": 20.3},
      {"method": "A2C", "step": 67, "reward": 19.7, "lo": 18.5, "hi": 20.9},
      {"method": "A2C", "step": 68, "reward": 19.5, "lo": 18.3, "hi": 20.7},
      {"method": "A2C", "step": 69, "reward": 19.6, "lo": 18.4, "hi": 20.8},
      {"method": "A2C", "step": 70, "reward": 19.4, "lo": 18.2, "hi": 20.6},
      {"method": "A2C", "step": 71, "reward": 20.0, "lo": 18.8, "hi": 21.2},
      {"method": "A2C", "step": 72, "reward": 19.9, "lo": 18.7, "hi": 21.1},
      {"method": "A2C", "step": 73, "reward": 20.3, "lo": 19.1, "hi": 21.5},
      {"method": "A2C", "step": 74, "reward": 20.6, "lo": 19.4, "hi": 21.8},
      {"method": "A2C", "step": 75, "reward": 21.0, "lo": 19.8, "hi": 22.2},
      {"method": "A2C", "step": 76, "reward": 20.5, "lo": 19.3, "hi": 21.7},
      {"method": "A2C", "step": 77, "reward": 20.1, "lo": 18.9, "hi": 21.3},
      {"method": "A2C", "step": 78, "reward": 20.2, "lo": 19.0, "hi": 21.4},
      {"method": "A2C", "step": 79, "reward": 20.6, "lo": 19.4, "hi": 21.8}
    ]
  },
  "concat": [
    {
      "title": "CoopNav",
      "width": 229, "height": 175,
      "data": {"name": "coopnav"},
      "encoding": {"x": {"field": "step", "type": "quantitative", "scale": {"domain": [0, 3], "nice": false}, "axis": {"values": [0, 1, 2, 3], "title": null}}},
      "layer": [
        {"transform": [{"filter": "datum.method === 'RFM + A2C'"}], "mark": {"type": "area", "color": "#0000ff", "opacity": 0.22}, "encoding": {"y": {"field": "lo", "type": "quantitative", "title": "Reward", "scale": {"domain": [0, 30], "nice": false}, "axis": {"values": [0, 5, 10, 15, 20, 25, 30]}}, "y2": {"field": "hi"}}},
        {"transform": [{"filter": "datum.method === 'RFM + A2C'"}], "mark": {"type": "line", "strokeWidth": 1.75}, "encoding": {"y": {"field": "reward", "type": "quantitative", "title": "Reward", "axis": {"values": [0, 5, 10, 15, 20, 25, 30]}}, "color": {"field": "method", "type": "nominal", "scale": {"domain": ["RFM + A2C", "A2C"], "range": ["#4c72b0", "#55a868"]}, "legend": {"title": null, "orient": "none", "legendX": 82, "legendY": 119, "symbolType": "M-2,0L2,0", "symbolSize": 272, "symbolStrokeWidth": 1.75, "labelFontSize": 16, "labelOffset": 21, "labelColor": "#262626", "rowPadding": 8.5}}}},
        {"transform": [{"filter": "datum.method === 'A2C'"}], "mark": {"type": "area", "color": "#008000", "opacity": 0.22}, "encoding": {"y": {"field": "lo", "type": "quantitative", "title": "Reward", "axis": {"values": [0, 5, 10, 15, 20, 25, 30]}}, "y2": {"field": "hi"}}},
        {"transform": [{"filter": "datum.method === 'A2C'"}], "mark": {"type": "line", "strokeWidth": 1.75}, "encoding": {"y": {"field": "reward", "type": "quantitative", "title": "Reward", "axis": {"values": [0, 5, 10, 15, 20, 25, 30]}}, "color": {"field": "method", "type": "nominal", "scale": {"domain": ["RFM + A2C", "A2C"], "range": ["#4c72b0", "#55a868"]}, "legend": {"title": null, "orient": "none", "legendX": 82, "legendY": 119, "symbolType": "M-2,0L2,0", "symbolSize": 272, "symbolStrokeWidth": 1.75, "labelFontSize": 16, "labelOffset": 21, "labelColor": "#262626", "rowPadding": 8.5}}}}
      ]
    },
    {
      "title": "StagHunt",
      "width": 229, "height": 175,
      "data": {"name": "staghunt"},
      "encoding": {"x": {"field": "step", "type": "quantitative", "scale": {"domain": [0, 3], "nice": false}, "axis": {"values": [0, 1, 2, 3], "title": null}}},
      "layer": [
        {"transform": [{"filter": "datum.method === 'RFM + A2C'"}], "mark": {"type": "area", "color": "#0000ff", "opacity": 0.22}, "encoding": {"y": {"field": "lo", "type": "quantitative", "title": null, "scale": {"domain": [0, 35], "nice": false}, "axis": {"values": [0, 5, 10, 15, 20, 25, 30, 35]}}, "y2": {"field": "hi"}}},
        {"transform": [{"filter": "datum.method === 'RFM + A2C'"}], "mark": {"type": "line", "strokeWidth": 1.75, "color": "#4c72b0"}, "encoding": {"y": {"field": "reward", "type": "quantitative", "title": null, "axis": {"values": [0, 5, 10, 15, 20, 25, 30, 35]}}}},
        {"transform": [{"filter": "datum.method === 'A2C'"}], "mark": {"type": "area", "color": "#008000", "opacity": 0.22}, "encoding": {"y": {"field": "lo", "type": "quantitative", "title": null, "axis": {"values": [0, 5, 10, 15, 20, 25, 30, 35]}}, "y2": {"field": "hi"}}},
        {"transform": [{"filter": "datum.method === 'A2C'"}], "mark": {"type": "line", "strokeWidth": 1.75, "color": "#55a868"}, "encoding": {"y": {"field": "reward", "type": "quantitative", "title": null, "axis": {"values": [0, 5, 10, 15, 20, 25, 30, 35]}}}}
      ]
    },
    {
      "title": "StagHunt - 4 players",
      "width": 229, "height": 175,
      "data": {"name": "staghunt4"},
      "encoding": {"x": {"field": "step", "type": "quantitative", "scale": {"domain": [0, 3], "nice": false}, "axis": {"values": [0, 1, 2, 3], "title": null}}},
      "layer": [
        {"transform": [{"filter": "datum.method === 'RFM + A2C'"}], "mark": {"type": "area", "color": "#0000ff", "opacity": 0.22}, "encoding": {"y": {"field": "lo", "type": "quantitative", "title": "Reward", "scale": {"domain": [0, 35], "nice": false}, "axis": {"values": [0, 5, 10, 15, 20, 25, 30, 35]}}, "y2": {"field": "hi"}}},
        {"transform": [{"filter": "datum.method === 'RFM + A2C'"}], "mark": {"type": "line", "strokeWidth": 1.75, "color": "#4c72b0"}, "encoding": {"y": {"field": "reward", "type": "quantitative", "title": "Reward", "axis": {"values": [0, 5, 10, 15, 20, 25, 30, 35]}}}},
        {"transform": [{"filter": "datum.method === 'A2C'"}], "mark": {"type": "area", "color": "#008000", "opacity": 0.22}, "encoding": {"y": {"field": "lo", "type": "quantitative", "title": "Reward", "axis": {"values": [0, 5, 10, 15, 20, 25, 30, 35]}}, "y2": {"field": "hi"}}},
        {"transform": [{"filter": "datum.method === 'A2C'"}], "mark": {"type": "line", "strokeWidth": 1.75, "color": "#55a868"}, "encoding": {"y": {"field": "reward", "type": "quantitative", "title": "Reward", "axis": {"values": [0, 5, 10, 15, 20, 25, 30, 35]}}}}
      ]
    },
    {
      "title": "CoinGame",
      "width": 229, "height": 175,
      "data": {"name": "coingame"},
      "encoding": {"x": {"field": "step", "type": "quantitative", "scale": {"domain": [0, 80], "nice": false}, "axis": {"values": [0, 20, 40, 60, 80], "title": null}}},
      "layer": [
        {"transform": [{"filter": "datum.method === 'RFM + A2C'"}], "mark": {"type": "area", "color": "#0000ff", "opacity": 0.22}, "encoding": {"y": {"field": "lo", "type": "quantitative", "title": null, "scale": {"domain": [0, 25], "nice": false}, "axis": {"values": [0, 5, 10, 15, 20, 25]}}, "y2": {"field": "hi"}}},
        {"transform": [{"filter": "datum.method === 'RFM + A2C'"}], "mark": {"type": "line", "strokeWidth": 1.75, "color": "#4c72b0"}, "encoding": {"y": {"field": "reward", "type": "quantitative", "title": null, "axis": {"values": [0, 5, 10, 15, 20, 25]}}}},
        {"transform": [{"filter": "datum.method === 'A2C'"}], "mark": {"type": "area", "color": "#008000", "opacity": 0.22}, "encoding": {"y": {"field": "lo", "type": "quantitative", "title": null, "axis": {"values": [0, 5, 10, 15, 20, 25]}}, "y2": {"field": "hi"}}},
        {"transform": [{"filter": "datum.method === 'A2C'"}], "mark": {"type": "line", "strokeWidth": 1.75, "color": "#55a868"}, "encoding": {"y": {"field": "reward", "type": "quantitative", "title": null, "axis": {"values": [0, 5, 10, 15, 20, 25]}}}}
      ]
    }
  ]
}
